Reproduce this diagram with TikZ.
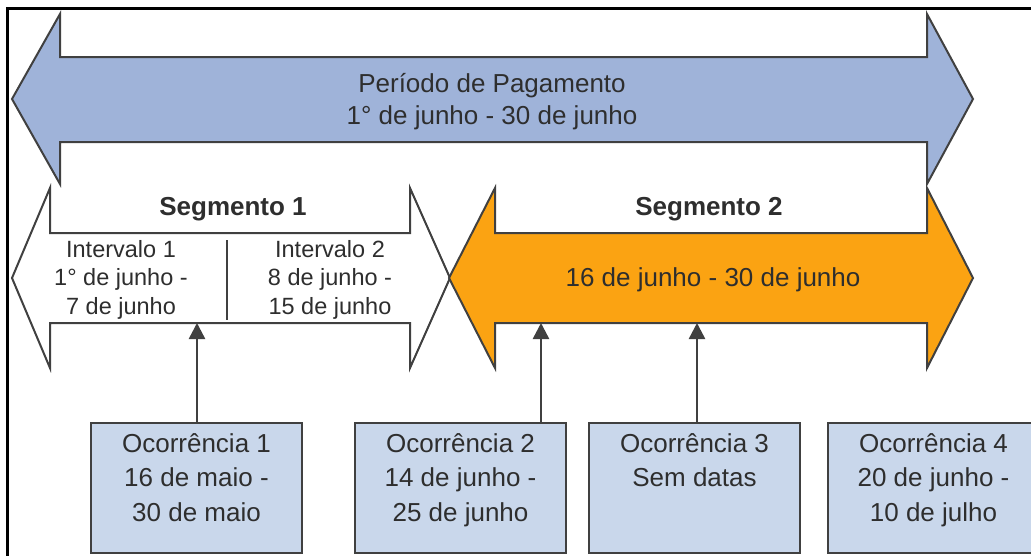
\documentclass[tikz,border=0pt]{standalone}
\usepackage{fontspec}
\setmainfont{Liberation Sans}
\usetikzlibrary{arrows.meta}
\definecolor{bluefill}{HTML}{9FB3D9}
\definecolor{orangefill}{HTML}{FBA312}
\definecolor{boxfill}{HTML}{C9D7EB}
\definecolor{edge}{HTML}{404040}
\definecolor{txt}{HTML}{2E2E2E}
\begin{document}
\begin{tikzpicture}[x=1pt,y=-1pt,
  arrowshape/.style={draw=edge, line width=2pt, line join=miter},
  bigtext/.style={font=\fontsize{26}{32}\selectfont, text=txt, align=center, inner sep=0pt, anchor=base},
  boldtext/.style={font=\fontsize{26}{32}\selectfont\bfseries, text=txt, inner sep=0pt, anchor=base},
  smalltext/.style={font=\fontsize{23.5}{28.5}\selectfont, text=txt, align=center, inner sep=0pt, anchor=base},
  occtext/.style={font=\fontsize{26}{34.5}\selectfont, text=txt, align=center, inner sep=0pt, anchor=base},
  occbox/.style={draw=edge, line width=2pt, fill=boxfill, minimum width=211pt, minimum height=130pt, inner sep=0pt},
  pointer/.style={draw=edge, line width=2.5pt, -{Triangle[width=16pt,length=16pt]}}
]
\useasboundingbox (0,0) rectangle (1031,555);
\clip (0,0) rectangle (1031,555);
\fill[white] (0,0) rectangle (1031,555);
% frame
\draw[line width=3pt, black] (7,560) -- (7,8) -- (1040,8);
% Periodo de pagamento
\draw[arrowshape, fill=bluefill] (12,99) -- (60,14) -- (60,57) -- (927,57) -- (927,14) -- (973,99)
  -- (927,184) -- (927,142) -- (60,142) -- (60,184) -- cycle;
\node[bigtext] (per) at (492,124) {Período de Pagamento\\1° de junho - 30 de junho};
% Segmento 1
\draw[arrowshape, fill=white] (12,278) -- (50,188) -- (50,233) -- (410,233) -- (410,188) -- (450,278)
  -- (410,368) -- (410,323) -- (50,323) -- (50,368) -- cycle;
\draw[draw=edge, line width=2.5pt] (227,240) -- (227,320);
\node[boldtext] (seg1) at (233,215) {Segmento 1};
\node[smalltext] (int1) at (121,314) {Intervalo 1\\1° de junho -\\7 de junho};
\node[smalltext] (int2) at (330,314) {Intervalo 2\\8 de junho -\\15 de junho};
% Segmento 2
\draw[arrowshape, fill=orangefill] (449,278) -- (495,188) -- (495,233) -- (927,233) -- (927,188) -- (973,278)
  -- (927,368) -- (927,323) -- (495,323) -- (495,368) -- cycle;
\node[boldtext] (seg2) at (709,215) {Segmento 2};
\node[bigtext] (seg2d) at (713,286) {16 de junho - 30 de junho};
% targets
\coordinate (t1) at (197,323);
\coordinate (t2) at (541,323);
\coordinate (t3) at (697,323);
% Ocorrencias
\node[occbox] (o1) at (196.5,488) {};
\node[occbox] (o2) at (460.5,488) {};
\node[occbox] (o3) at (694.5,488) {};
\node[occbox] (o4) at (933.5,488) {};
\node[occtext] (o1t) at (196.5,521) {Ocorrência 1\\16 de maio -\\30 de maio};
\node[occtext] (o2t) at (460.5,521) {Ocorrência 2\\14 de junho -\\25 de junho};
\node[occtext] (o3t) at (694.5,486.5) {Ocorrência 3\\Sem datas};
\node[occtext] (o4t) at (933.5,521) {Ocorrência 4\\20 de junho -\\10 de julho};
% pointers
\draw[pointer] (t1 |- o1.north) -- (t1);
\draw[pointer] (t2 |- o2.north) -- (t2);
\draw[pointer] (t3 |- o3.north) -- (t3);
\end{tikzpicture}
\end{document}
